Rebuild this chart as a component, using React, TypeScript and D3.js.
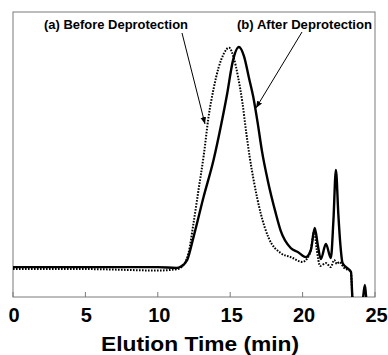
import React from "react";
import * as d3 from "d3";

// Elution time (min) and detector response (arbitrary units)
const afterTime = [0, 5, 10, 11.29, 11.6, 12.03, 12.47, 13.16, 13.85, 14.34, 14.8, 15.17, 15.6, 15.95, 16.29, 16.62, 16.9, 17.2, 17.59, 18.14, 18.49, 19.18, 19.67, 20.22, 20.57, 20.84, 21.05, 21.26, 21.61, 21.95, 22.13, 22.3, 22.47, 22.6, 22.76, 22.99, 23.34, 23.44, 23.55, 24.1, 24.3, 24.45, 25];
const afterSignal = [10.5, 10.5, 10.5, 10.2, 10.7, 13.0, 21.1, 35.1, 48.1, 59.6, 71.6, 82.5, 87.7, 84.5, 77, 69.5, 61, 51, 41, 29.5, 23.2, 17.2, 15.8, 14.0, 16.5, 24.2, 18.2, 13.3, 18.6, 13.7, 27, 44.6, 28.8, 18.9, 11.9, 10.5, 8.8, -0.4, -4.6, -2.8, 4.2, -2.8, -4];

const beforeTime = [0, 5, 10, 11.36, 11.57, 12.12, 12.47, 12.81, 13.18, 13.5, 13.85, 14.2, 14.55, 14.92, 15.24, 15.55, 15.85, 16.1, 16.35, 16.62, 17.1, 17.66, 18.49, 19.18, 19.99, 20.34, 20.57, 20.8, 20.98, 21.21, 21.61, 21.95, 22.18, 22.37, 22.53, 22.87, 23.34, 23.44, 23.55];
const beforeSignal = [9.8, 9.8, 9.3, 9.8, 10.2, 15.4, 26, 37.5, 50, 63, 73, 80.5, 85.3, 87.5, 84, 77, 68, 58, 49, 41, 29.5, 20.7, 15.4, 14.0, 12.3, 13.7, 16.5, 23.2, 16.5, 10.9, 11.9, 10.5, 13.0, 11.6, 12.3, 10.2, 8.8, -0.4, -4.6];

const xTicks = [0, 5, 10, 15, 20, 25];
const xLabel = "Elution Time (min)";
const labelA = "(a) Before Deprotection";
const labelB = "(b) After Deprotection";

const W = 388;
const H = 355;
const left = 13;
const right = 375;
const top = 12;
const bottom = 297;

export default function App() {
  const x = d3.scaleLinear().domain([0, 25]).range([left, right]);
  const y = d3.scaleLinear().domain([0, 100]).range([bottom, top]);

  const line = d3
    .line<[number, number]>()
    .x((d) => x(d[0]))
    .y((d) => y(d[1]))
    .curve(d3.curveMonotoneX);

  const afterPts = afterTime.map((t, i) => [t, afterSignal[i]] as [number, number]);
  const beforePts = beforeTime.map((t, i) => [t, beforeSignal[i]] as [number, number]);

  const font = "'Liberation Sans', Arial, Helvetica, sans-serif";
  const frame = "#7a7a7a";

  return (
    <svg
      width={W}
      height={H}
      style={{ position: "absolute", left: 0, top: 0, background: "#fff" }}
    >
      <defs>
        <clipPath id="plot">
          <rect x={left} y={top} width={right - left} height={bottom - top} />
        </clipPath>
        <marker
          id="arrow"
          viewBox="0 0 10 10"
          refX="10"
          refY="5"
          markerWidth="7"
          markerHeight="7"
          orient="auto"
          markerUnits="userSpaceOnUse"
        >
          <path d="M0,1 L10,5 L0,9 z" fill="#000" />
        </marker>
      </defs>

      <rect x={left} y={top} width={right - left} height={bottom - top} fill="none" stroke={frame} strokeWidth={1} />
      {xTicks.map((t) => (
        <g key={t}>
          <line x1={x(t)} x2={x(t)} y1={bottom} y2={bottom - 5} stroke={frame} strokeWidth={1} />
          <text
            x={x(t) + (t >= 10 ? 1.5 : 1)}
            y={322}
            textAnchor="middle"
            fontFamily={font}
            fontWeight="bold"
            fontSize={20}
            fill="#000"
          >
            {t}
          </text>
        </g>
      ))}

      <g clipPath="url(#plot)">
        <path
          d={line(beforePts) || ""}
          fill="none"
          stroke="#000"
          strokeWidth={2}
          strokeDasharray="1.6,1.4"
        />
        <path d={line(afterPts) || ""} fill="none" stroke="#000" strokeWidth={2.4} strokeLinejoin="round" />
      </g>

      <text x={44} y={29} fontFamily={font} fontWeight="bold" fontSize={12} textLength={144} lengthAdjust="spacingAndGlyphs" fill="#000">
        {labelA}
      </text>
      <text x={237} y={29} fontFamily={font} fontWeight="bold" fontSize={12} textLength={135} lengthAdjust="spacingAndGlyphs" fill="#000">
        {labelB}
      </text>
      <line x1={182} y1={33} x2={205} y2={124} stroke="#000" strokeWidth={1} markerEnd="url(#arrow)" />
      <line x1={302} y1={32} x2={256} y2={108} stroke="#000" strokeWidth={1} markerEnd="url(#arrow)" />

      <text x={101} y={351} fontFamily={font} fontWeight="bold" fontSize={20} textLength={198} lengthAdjust="spacingAndGlyphs" fill="#000">
        {xLabel}
      </text>
    </svg>
  );
}
